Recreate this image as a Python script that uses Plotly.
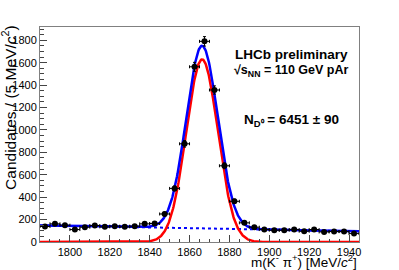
import numpy as np
import plotly.graph_objects as go

# ---- data ----
bin_centers = [1787.5, 1792.5, 1797.5, 1802.5, 1807.5, 1812.5, 1817.5, 1822.5,
               1827.5, 1832.5, 1837.5, 1842.5, 1847.5, 1852.5, 1857.5, 1862.5,
               1867.5, 1872.5, 1877.5, 1882.5, 1887.5, 1892.5, 1897.5, 1902.5,
               1907.5, 1912.5, 1917.5, 1922.5, 1927.5, 1932.5, 1937.5, 1942.5]
counts = [138, 162, 150, 111, 132, 147, 135, 141,
          135, 141, 162, 165, 250, 478, 876, 1563,
          1790, 1356, 680, 363, 171, 132, 111, 105,
          105, 111, 96, 111, 90, 93, 93, 75]
bin_width = 5.0

# fit model parameters
n_signal = 6451
mass_mean = 1866.3
mass_sigma = 7.9
bkg_left = 148.0   # background level at 1785
bkg_right = 96.0   # background level at 1945
x_lo, x_hi = 1785.0, 1945.0

# ---- fit curves from model parameters ----
xf = np.linspace(x_lo, x_hi, 641)
sig = n_signal * bin_width / (mass_sigma * np.sqrt(2 * np.pi)) * np.exp(-0.5 * ((xf - mass_mean) / mass_sigma) ** 2)
bkg = bkg_left + (bkg_right - bkg_left) * (xf - x_lo) / (x_hi - x_lo)
tot = sig + bkg

fig = go.Figure()
fig.add_trace(go.Scatter(x=xf, y=bkg, mode="lines",
                         line=dict(color="#0000ff", width=2, dash="dot"), showlegend=False))
fig.add_trace(go.Scatter(x=xf, y=sig, mode="lines",
                         line=dict(color="#ff0000", width=2.5), showlegend=False))
fig.add_trace(go.Scatter(x=xf, y=tot, mode="lines",
                         line=dict(color="#0000ff", width=2.5), showlegend=False))
fig.add_trace(go.Scatter(
    x=bin_centers, y=counts, mode="markers",
    marker=dict(color="black", size=6),
    error_y=dict(type="data", array=list(np.sqrt(counts)), color="black", thickness=1, width=1.5),
    error_x=dict(type="constant", value=bin_width / 2, color="black", thickness=1, width=1.5),
    showlegend=False))

font_family = "Liberation Sans, Arial, Helvetica, sans-serif"
fig.update_layout(
    width=399, height=270,
    margin=dict(l=40, r=40, t=27, b=27.5, autoexpand=False),
    paper_bgcolor="white", plot_bgcolor="white",
    font=dict(family=font_family, size=11, color="black"),
    xaxis=dict(range=[x_lo, x_hi], showgrid=False, zeroline=False, automargin=False,
               showline=True, linecolor="#808080", linewidth=1, mirror=True,
               ticks="inside", ticklen=7, tickcolor="#444", dtick=20, tick0=1800,
               minor=dict(ticks="inside", ticklen=3.5, dtick=5, tickcolor="#444"),
               tickfont=dict(size=11)),
    yaxis=dict(range=[0, 1918], showgrid=False, zeroline=False, automargin=False,
               showline=True, linecolor="#808080", linewidth=1, mirror=True,
               ticks="inside", ticklen=7, tickcolor="#444", dtick=200, tick0=0,
               minor=dict(ticks="inside", ticklen=3.5, dtick=50, tickcolor="#444"),
               tickfont=dict(size=11)),
)

fig.add_annotation(xref="paper", yref="paper", x=(359 - 40) / 319, y=-0.035,
                   xanchor="right", yanchor="top", showarrow=False,
                   text="m(K<sup>-</sup> π<sup>+</sup>) [MeV/<i>c</i><sup>2</sup>]",
                   font=dict(size=13.5))
fig.add_annotation(xref="paper", yref="paper", x=-0.095, y=1.02,
                   xanchor="center", yanchor="top", textangle=-90, showarrow=False,
                   text="Candidates / (5 MeV/<i>c</i><sup>2</sup>)",
                   font=dict(size=15.5))
fig.add_annotation(xref="paper", yref="paper", x=0.788, y=0.874, showarrow=False,
                   xanchor="center", yanchor="middle",
                   text="<b>LHCb preliminary</b>", font=dict(size=13.5))
fig.add_annotation(xref="paper", yref="paper", x=0.788, y=0.795, showarrow=False,
                   xanchor="center", yanchor="middle",
                   text="<b>√s<sub>NN</sub> = 110 GeV pAr</b>", font=dict(size=12.5))
fig.add_annotation(xref="paper", yref="paper", x=0.788, y=0.567, showarrow=False,
                   xanchor="center", yanchor="middle",
                   text="<b>N<sub>D⁰</sub> = 6451 ± 90</b>", font=dict(size=13.5))

fig.write_html("out.html", config={"displayModeBar": False},
               post_script="document.body.style.margin='0';document.body.style.padding='0';")
